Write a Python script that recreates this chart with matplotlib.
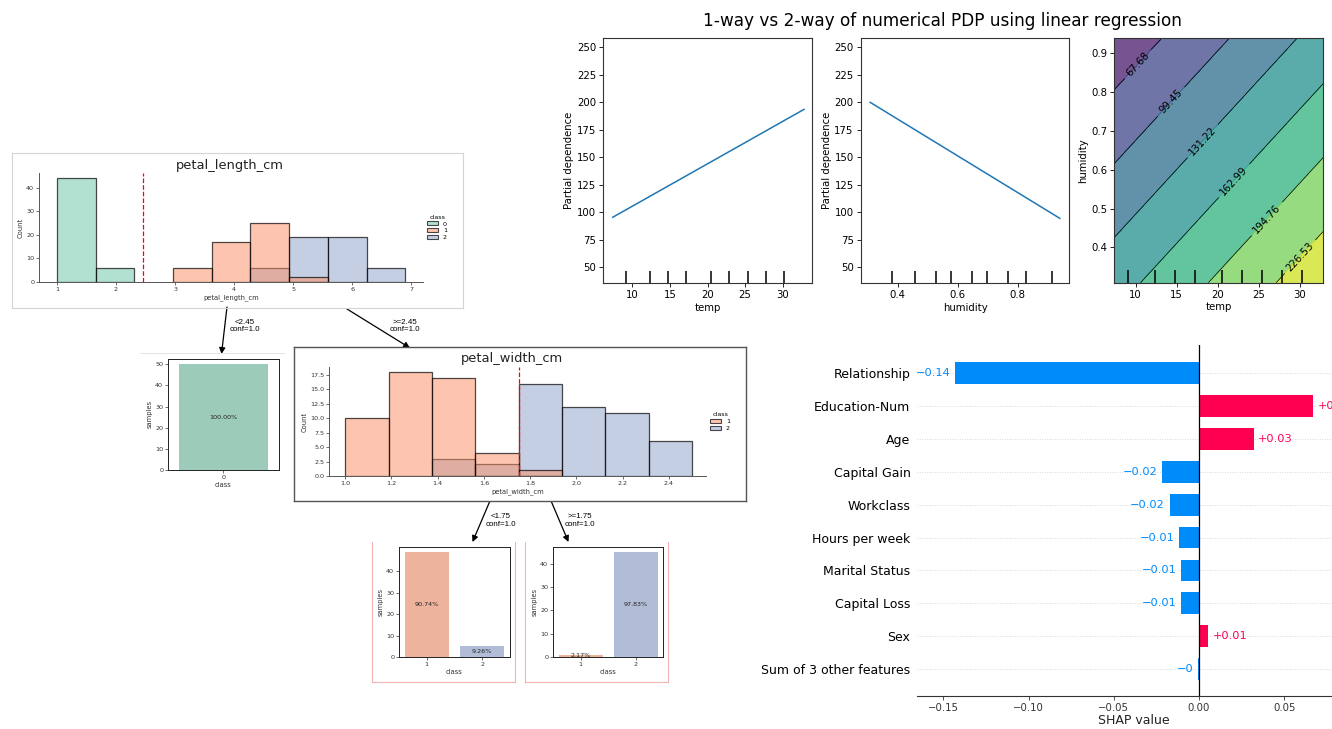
import numpy as np
import matplotlib.pyplot as plt
from matplotlib.patches import Patch, FancyArrowPatch
from matplotlib.lines import Line2D
from matplotlib.colors import to_rgba
from matplotlib.transforms import blended_transform_factory

# ---------------- data ----------------
# decision tree, node 1: petal length histogram per class
pl_edges = np.linspace(1.0, 6.9, 10)
pl_counts = {
    0: [44, 6, 0, 0, 0, 0, 0, 0, 0],
    1: [0, 0, 0, 6, 17, 25, 2, 0, 0],
    2: [0, 0, 0, 0, 0, 6, 19, 19, 6],
}
pl_split = 2.45

# decision tree, node 2: petal width histogram per class
pw_edges = np.linspace(1.0, 2.5, 9)
pw_counts = {
    1: [10, 18, 17, 4, 1, 0, 0, 0],
    2: [0, 0, 3, 2, 16, 12, 11, 6],
}
pw_split = 1.75

# leaves
leaf0_classes = ['0']
leaf0_samples = [50]
leaf0_pct = ['100.00%']
leafL_classes = ['1', '2']
leafL_samples = [49, 5]
leafL_pct = ['90.74%', '9.26%']
leafR_classes = ['1', '2']
leafR_samples = [1, 45]
leafR_pct = ['2.17%', '97.83%']

# partial dependence
temp_grid = [7.4, 32.84]
pd_temp = [95.5, 193.6]
hum_grid = [0.309, 0.940]
pd_hum = [200.0, 94.5]
temp_deciles = [9.1, 12.4, 14.8, 17.2, 20.5, 22.9, 25.4, 27.8, 30.2]
hum_deciles = [0.3815, 0.4597, 0.529, 0.5787, 0.6493, 0.6975, 0.7683, 0.8278, 0.9147]
# 2-way pd at grid corners (rows: humidity, cols: temp)
pd_2way = [[150.7, 248.6],
           [45.3, 143.3]]
pd_levels = [35.91, 67.68, 99.45, 131.22, 162.99, 194.76, 226.53, 258.30]

# shap
shap_features = ['Relationship', 'Education-Num', 'Age', 'Capital Gain', 'Workclass',
                 'Hours per week', 'Marital Status', 'Capital Loss', 'Sex',
                 'Sum of 3 other features']
shap_vals = [-0.143, 0.067, 0.032, -0.0217, -0.0173, -0.0115, -0.0104, -0.0104, 0.0053, -0.0007]

# ---------------- figure ----------------
W, H = 1332, 729
fig = plt.figure(figsize=(W / 100, H / 100), dpi=100)


def px_axes(l, t, r, b):
    return fig.add_axes([l / W, 1 - b / H, (r - l) / W, (b - t) / H])


def fx(x):
    return x / W


def fy(y):
    return 1 - y / H


def frame(l, t, r, b, color, lw=0.8, sides='lrtb'):
    pts = {'l': ([l, l], [t, b]), 'r': ([r, r], [t, b]),
           't': ([l, r], [t, t]), 'b': ([l, r], [b, b])}
    for s in sides:
        xs, ys = pts[s]
        fig.add_artist(Line2D([fx(v) for v in xs], [fy(v) for v in ys],
                              transform=fig.transFigure, color=color, lw=lw))


def arrow(x0, y0, x1, y1):
    fig.add_artist(FancyArrowPatch((fx(x0), fy(y0)), (fx(x1), fy(y1)),
                                   transform=fig.transFigure, arrowstyle='-|>',
                                   mutation_scale=9, lw=0.9, color='black',
                                   shrinkA=0, shrinkB=0))


set2 = {0: '#66c2a5', 1: '#fc8d62', 2: '#8da0cb'}
leaf_col = {'0': '#9dcbb9', '1': '#edb39c', '2': '#b1bcd6'}
small = 4.6


def style_small(ax, full_box=False):
    ax.tick_params(labelsize=small, length=2, width=0.5, pad=1.5, colors='#333333')
    for s in ax.spines.values():
        s.set_linewidth(0.7)
        s.set_color('#222222' if full_box else '#555555')
    if not full_box:
        ax.spines['top'].set_visible(False)
        ax.spines['right'].set_visible(False)


def tree_hist(ax, edges, counts, split, title_xy, title, xlabel):
    widths = np.diff(edges)
    for c in reversed(list(counts)):
        vals = np.array(counts[c])
        keep = vals > 0
        ax.bar(edges[:-1][keep], vals[keep], width=widths[keep], align='edge',
               facecolor=to_rgba(set2[c], 0.5), edgecolor=(0, 0, 0, 0.7), linewidth=0.9)
    ax.axvline(split, color='red', ls='--', lw=0.9)
    style_small(ax)
    ax.set_xlabel(xlabel, fontsize=small + 0.3, labelpad=1.5, color='#333333')
    ax.set_ylabel('Count', fontsize=small + 0.3, labelpad=1.5, color='#333333')
    handles = [Patch(facecolor=to_rgba(set2[c], 0.5), edgecolor=(0, 0, 0, 0.7), lw=0.8)
               for c in counts]
    ax.legend(handles, [str(c) for c in counts], title='class', fontsize=small,
              title_fontsize=small, frameon=False, loc='center left',
              bbox_to_anchor=(1.0, 0.5), handlelength=1.6, handleheight=0.6,
              labelspacing=0.25, borderpad=0.2)
    fig.text(fx(title_xy[0]), fy(title_xy[1]), title, fontsize=9.4,
             ha='center', va='center', color='#222222')


def leaf(ax, classes, samples, pct):
    x = np.arange(len(classes))
    ax.bar(x, samples, width=0.8, color=[leaf_col[c] for c in classes])
    ax.set_xlim(-0.5, len(classes) - 0.5)
    ax.set_ylim(0, max(samples) * 1.05)
    ax.set_xticks(x)
    ax.set_xticklabels(classes)
    ax.set_yticks(np.arange(0, max(samples) + 1, 10))
    for xi, s, p in zip(x, samples, pct):
        ax.text(xi, s / 2, p, ha='center', va='center', fontsize=small, color='#222222')
    style_small(ax, full_box=True)
    ax.set_xlabel('class', fontsize=small + 0.3, labelpad=1.5, color='#333333')
    ax.set_ylabel('samples', fontsize=small + 0.3, labelpad=1.5, color='#333333')


# ---- panel A: decision tree ----
frame(12, 153, 463, 308, '#d4d4d4', 0.8)
ax_pl = px_axes(39, 173, 423, 282)
tree_hist(ax_pl, pl_edges, pl_counts, pl_split, (230, 165), 'petal_length_cm',
          'petal_length_cm')
ax_pl.set_xlim(0.695, 7.2)
ax_pl.set_ylim(0, 46.2)
ax_pl.set_yticks([0, 10, 20, 30, 40])

frame(140, 353, 284, 353, '#e6e6e6', 0.8, sides='t')
ax_l0 = px_axes(168, 359, 279, 470)
leaf(ax_l0, leaf0_classes, leaf0_samples, leaf0_pct)

frame(294, 347, 746, 501, '#555555', 1.0)
ax_pw = px_axes(329, 367, 706, 476)
tree_hist(ax_pw, pw_edges, pw_counts, pw_split, (512, 358), 'petal_width_cm',
          'petal_width_cm')
ax_pw.set_xlim(0.93, 2.56)
ax_pw.set_ylim(0, 18.9)
ax_pw.set_yticks(np.arange(0, 18, 2.5))

frame(372, 542, 515, 682, '#f3b3b3', 0.8, sides='lrb')
frame(525, 542, 668, 682, '#f3b3b3', 0.8, sides='lrb')
ax_lL = px_axes(399, 547, 510, 657)
leaf(ax_lL, leafL_classes, leafL_samples, leafL_pct)
ax_lR = px_axes(553, 547, 663, 657)
leaf(ax_lR, leafR_classes, leafR_samples, leafR_pct)

arrow(227, 307, 221.5, 354)
arrow(347, 309, 410, 348)
arrow(489.5, 502, 472.5, 542)
arrow(551.5, 502, 568.5, 542)
edge_font = dict(fontsize=5.7, ha='center', va='center', family='Liberation Sans',
                 linespacing=1.1)
fig.text(fx(245), fy(326), '<2.45\nconf=1.0', **edge_font)
fig.text(fx(405), fy(326), '>=2.45\nconf=1.0', **edge_font)
fig.text(fx(501), fy(520.5), '<1.75\nconf=1.0', **edge_font)
fig.text(fx(580), fy(520.5), '>=1.75\nconf=1.0', **edge_font)

# ---- panel B: partial dependence ----
pdp_fs = 7.3


def style_pdp(ax):
    ax.tick_params(labelsize=pdp_fs, length=3, width=0.6, pad=2)
    for s in ax.spines.values():
        s.set_linewidth(0.8)
        s.set_color('#333333')


fig.text(fx(942), fy(21), '1-way vs 2-way of numerical PDP using linear regression',
         fontsize=12.2, ha='center', va='center')

ax_t = px_axes(603, 38, 812, 283)
ax_t.plot(temp_grid, pd_temp, color='#1f77b4', lw=1.1)
ax_t.vlines(temp_deciles, 0, 0.05, color='k', lw=1.1,
            transform=blended_transform_factory(ax_t.transData, ax_t.transAxes))
ax_t.set_xlim(6.1, 33.9)
ax_t.set_ylim(35.7, 258.5)
ax_t.set_xticks([10, 15, 20, 25, 30])
ax_t.set_yticks(np.arange(50, 251, 25))
ax_t.set_xlabel('temp', fontsize=pdp_fs, labelpad=2)
ax_t.set_ylabel('Partial dependence', fontsize=pdp_fs, labelpad=2)
style_pdp(ax_t)

ax_h = px_axes(860.7, 38, 1069.3, 283)
ax_h.plot(hum_grid, pd_hum, color='#1f77b4', lw=1.1)
ax_h.vlines(hum_deciles, 0, 0.05, color='k', lw=1.1,
            transform=blended_transform_factory(ax_h.transData, ax_h.transAxes))
ax_h.set_xlim(0.2775, 0.9715)
ax_h.set_ylim(35.7, 258.5)
ax_h.set_xticks([0.4, 0.6, 0.8])
ax_h.set_yticks(np.arange(50, 251, 25))
ax_h.set_xlabel('humidity', fontsize=pdp_fs, labelpad=2)
ax_h.set_ylabel('Partial dependence', fontsize=pdp_fs, labelpad=2)
style_pdp(ax_h)

ax_c = px_axes(1114.3, 37.7, 1323.3, 282.7)
TT, HH = np.meshgrid(temp_grid, hum_grid)
ZZ = np.array(pd_2way)
ax_c.contourf(TT, HH, ZZ, levels=pd_levels, cmap='viridis', alpha=0.75,
              vmin=pd_levels[0], vmax=pd_levels[-1])
cs = ax_c.contour(TT, HH, ZZ, levels=pd_levels, colors='k', linewidths=0.5)
ax_c.clabel(cs, fmt='%2.2f', colors='k', fontsize=pdp_fs, inline=True,
            manual=[(10.2, 0.874), (14.1, 0.78), (18.0, 0.677), (21.9, 0.573),
                    (25.9, 0.475), (29.8, 0.38)])
ax_c.vlines(temp_deciles, 0, 0.05, color='k', lw=1.1,
            transform=blended_transform_factory(ax_c.transData, ax_c.transAxes))
ax_c.set_xlim(temp_grid[0], temp_grid[-1])
ax_c.set_ylim(hum_grid[0], hum_grid[-1])
ax_c.set_xticks([10, 15, 20, 25, 30])
ax_c.set_yticks([0.4, 0.5, 0.6, 0.7, 0.8, 0.9])
ax_c.set_xlabel('temp', fontsize=pdp_fs, labelpad=2)
ax_c.set_ylabel('humidity', fontsize=pdp_fs, labelpad=2)
style_pdp(ax_c)

# ---- panel C: shap bar (cut off at the right edge) ----
blue, red = '#008bfb', '#ff0051'


def shap_fmt(v):
    s = '%+0.02f' % v
    s = s.rstrip('0').rstrip('.')
    return s.replace('-', '\u2212')


ax_s = px_axes(917.4, 345, 1350, 696)
ys = np.arange(len(shap_vals))[::-1]
for y in ys:
    ax_s.axhline(y, color='#cccccc', lw=0.6, dashes=(1, 2), zorder=-1)
cols = [red if v > 0 else blue for v in shap_vals]
ax_s.barh(ys, shap_vals, height=0.66, color=cols, zorder=2)
ax_s.axvline(0, color='black', lw=0.9, zorder=3)
for y, v, c in zip(ys, shap_vals, cols):
    off = 3.3 if v > 0 else -3.3
    ax_s.annotate(shap_fmt(v), (v, y), xytext=(off, 0), textcoords='offset points',
                  ha='left' if v > 0 else 'right', va='center', fontsize=8.2, color=c)
ax_s.set_xlim(-0.1653, 0.0886)
ax_s.set_ylim(-0.82, 9.86)
ax_s.set_xticks([-0.15, -0.10, -0.05, 0.0, 0.05])
ax_s.set_yticks(ys)
ax_s.set_yticklabels(shap_features, fontsize=9)
ax_s.tick_params(axis='y', length=0, pad=5)
ax_s.tick_params(axis='x', labelsize=7.3, length=3, width=0.6, pad=2, colors='#333333')
for s in ['left', 'top', 'right']:
    ax_s.spines[s].set_visible(False)
ax_s.spines['bottom'].set_color('#333333')
ax_s.spines['bottom'].set_linewidth(0.8)
ax_s.set_xlabel('SHAP value', fontsize=9, labelpad=1, color='#222222')

fig.savefig('out.png', dpi=100)
